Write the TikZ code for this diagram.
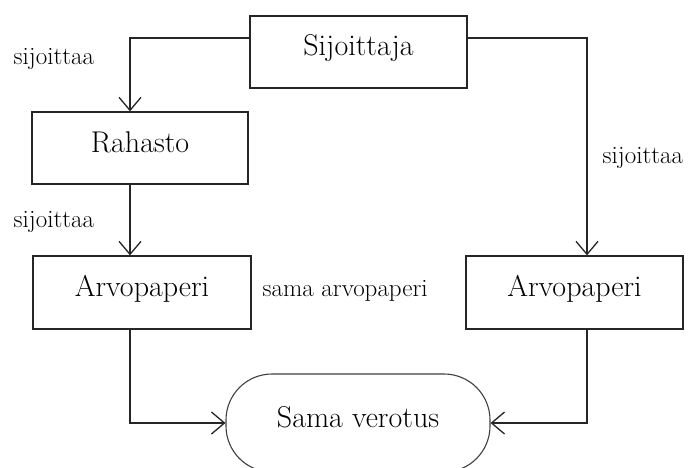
\documentclass[tikz,border=0pt]{standalone}
\usetikzlibrary{arrows.meta}
\begin{document}
\begin{tikzpicture}[x=1pt,y=-1pt,
  line width=1.3pt,
  boxtext/.style={font=\fontsize{30}{36}\selectfont, text height=20pt, text depth=12pt},
  stepbox/.style={draw=black!85, rectangle, inner sep=0pt, boxtext},
  endbox/.style={draw=black!75, line width=1.1pt, rectangle, rounded corners=46pt, inner sep=0pt, boxtext, minimum width=264pt, minimum height=98pt},
  lbl/.style={font=\fontsize{25}{30}\selectfont, anchor=base west, inner sep=0pt},
  arr/.style={draw=black!85, -{Straight Barb[length=13pt,width=22pt,line width=1.3pt]}}
]
\clip (0,0) rectangle (690,468);
\fill[white] (0,0) rectangle (690,468);

\node[stepbox, minimum width=217pt, minimum height=72pt] (sij) at (358.5,52) {Sijoittaja};
\node[stepbox, minimum width=216pt, minimum height=72pt] (rah) at (140,148) {Rahasto};
\node[stepbox, minimum width=218pt, minimum height=73pt] (arv1) at (142,292.5) {Arvopaperi};
\node[stepbox, minimum width=217pt, minimum height=73pt] (arv2) at (574.5,292.5) {Arvopaperi};
\node[endbox] (sama) at (358,423) {Sama verotus};

\coordinate (lx) at (130,0);
\coordinate (rx) at (587,0);
\coordinate (ty) at (0,38);

\draw[arr] (sij.west |- ty) -| (lx |- rah.north);
\draw[arr] (sij.east |- ty) -| (rx |- arv2.north);
\draw[arr] (lx |- rah.south) -- (lx |- arv1.north);
\draw[arr] (lx |- arv1.south) |- (sama.west);
\draw[arr] (rx |- arv2.south) |- (sama.east);

\node[lbl] (l1) at (13,65) {sijoittaa};
\node[lbl] (l2) at (13,227) {sijoittaa};
\node[lbl] (l3) at (602,163) {sijoittaa};
\node[lbl] (l4) at (262,296) {sama arvopaperi};
\end{tikzpicture}
\end{document}
